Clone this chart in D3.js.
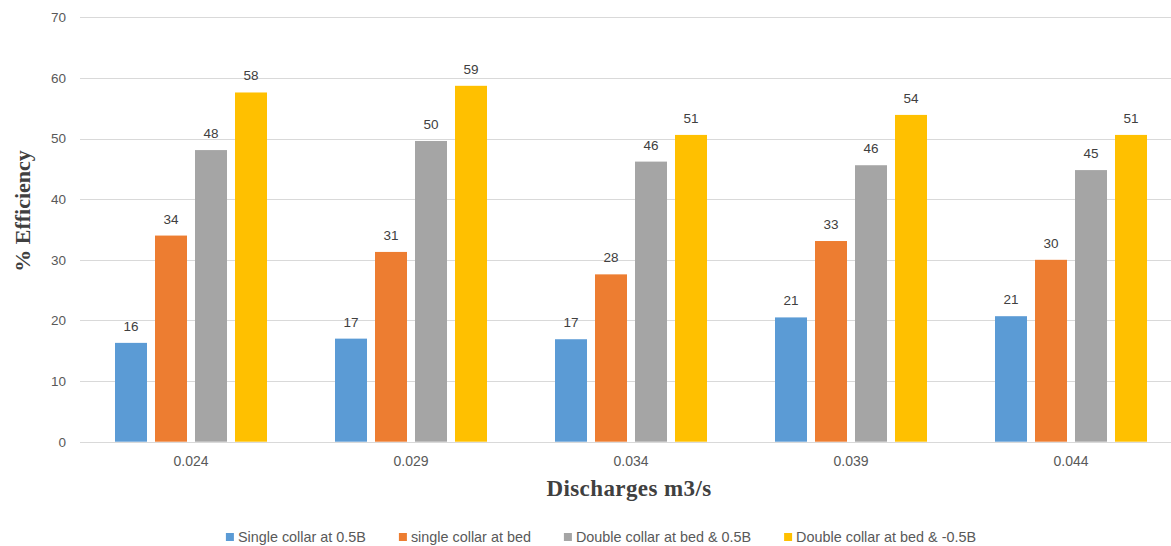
<!DOCTYPE html>
<html>
<head>
<meta charset="utf-8">
<script src="https://cdn.jsdelivr.net/npm/d3@7"></script>
<style>
  html, body { margin: 0; padding: 0; background: #ffffff; }
  svg { display: block; }
</style>
</head>
<body>
<svg id="chart" width="1171" height="546"></svg>
<script>
// Discharge categories (m3/s)
const categories = ["0.024", "0.029", "0.034", "0.039", "0.044"];

// Series names, as shown in the legend
const seriesNames = [
  "Single collar at 0.5B",
  "single collar at bed",
  "Double collar at bed & 0.5B",
  "Double collar at bed & -0.5B"
];

// % efficiency per series, one value per discharge
const singleHalfB   = [16.3, 17.0, 16.9, 20.5, 20.7];
const singleBed     = [34.0, 31.3, 27.6, 33.1, 30.0];
const doubleHalfB   = [48.1, 49.6, 46.2, 45.6, 44.8];
const doubleMinusB  = [57.6, 58.7, 50.6, 53.9, 50.6];

const seriesValues = [singleHalfB, singleBed, doubleHalfB, doubleMinusB];
const seriesColors = ["#5b9bd5", "#ed7d31", "#a5a5a5", "#ffc000"];

const yTicks = [0, 10, 20, 30, 40, 50, 60, 70];

const svg = d3.select("#chart");

const plot = { left: 80, right: 1180, top: 17.3, bottom: 441.7 };

const x0 = d3.scaleBand()
  .domain(categories)
  .range([plot.left + 1, plot.right + 1])
  .paddingInner(68 / 220)
  .paddingOuter(34 / 220);

const x1 = d3.scaleBand()
  .domain(d3.range(seriesNames.length))
  .range([0, x0.bandwidth()])
  .paddingInner(0.2)
  .paddingOuter(0);

const y = d3.scaleLinear()
  .domain([0, 70])
  .range([plot.bottom, plot.top]);

// Horizontal gridlines
svg.append("g")
  .selectAll("line")
  .data(yTicks)
  .join("line")
  .attr("x1", plot.left)
  .attr("x2", plot.right)
  .attr("y1", d => Math.round(y(d)) + 0.5)
  .attr("y2", d => Math.round(y(d)) + 0.5)
  .attr("stroke", "#d9d9d9")
  .attr("stroke-width", 1);

// Y axis tick labels
const yAxis = d3.axisLeft(y).tickValues(yTicks).tickSize(0).tickPadding(0);
const yAxisG = svg.append("g")
  .attr("transform", `translate(${plot.left - 14},0)`)
  .call(yAxis);
yAxisG.select(".domain").remove();
yAxisG.selectAll("text")
  .attr("font-family", "'Liberation Sans', Arial, sans-serif")
  .attr("font-size", 13.5)
  .attr("fill", "#595959");

// X axis category labels
const xAxis = d3.axisBottom(x0).tickSize(0).tickPadding(0);
const xAxisG = svg.append("g")
  .attr("transform", `translate(0,${plot.bottom + 14})`)
  .call(xAxis);
xAxisG.select(".domain").remove();
xAxisG.selectAll("text")
  .attr("font-family", "'Liberation Sans', Arial, sans-serif")
  .attr("font-size", 14)
  .attr("fill", "#595959");

// Bars and value labels
const rows = [];
categories.forEach((c, ci) => {
  seriesValues.forEach((vals, si) => {
    rows.push({ cat: c, s: si, v: vals[ci] });
  });
});

const groups = svg.append("g");
groups.selectAll("rect")
  .data(rows)
  .join("rect")
  .attr("x", d => x0(d.cat) + x1(d.s))
  .attr("y", d => y(d.v))
  .attr("width", x1.bandwidth())
  .attr("height", d => y(0) - y(d.v))
  .attr("fill", d => seriesColors[d.s]);

groups.selectAll("text")
  .data(rows)
  .join("text")
  .attr("x", d => x0(d.cat) + x1(d.s) + x1.bandwidth() / 2)
  .attr("y", d => y(d.v) - 12)
  .attr("text-anchor", "middle")
  .attr("font-family", "'Liberation Sans', Arial, sans-serif")
  .attr("font-size", 13.5)
  .attr("fill", "#404040")
  .text(d => d3.format(".0f")(d.v));

// Axis titles
svg.append("text")
  .attr("transform", "translate(22,211) rotate(-90)")
  .attr("text-anchor", "middle")
  .attr("dominant-baseline", "central")
  .attr("font-family", "'Liberation Serif', 'DejaVu Serif', serif")
  .attr("font-weight", "bold")
  .attr("font-size", 22)
  .attr("fill", "#404040")
  .text("% Efficiency");

svg.append("text")
  .attr("x", (plot.left + plot.right) / 2 - 1)
  .attr("y", 496)
  .attr("text-anchor", "middle")
  .attr("font-family", "'Liberation Serif', 'DejaVu Serif', serif")
  .attr("font-weight", "bold")
  .attr("font-size", 23)
  .attr("letter-spacing", 0.4)
  .attr("fill", "#404040")
  .text("Discharges m3/s");

// Legend, laid out from measured text widths and centred
const legend = svg.append("g");
const items = legend.selectAll("g")
  .data(seriesNames)
  .join("g");
items.append("rect")
  .attr("width", 8)
  .attr("height", 8)
  .attr("y", -4)
  .attr("fill", (d, i) => seriesColors[i]);
items.append("text")
  .attr("x", 12)
  .attr("dominant-baseline", "central")
  .attr("font-family", "'Liberation Sans', Arial, sans-serif")
  .attr("font-size", 14.4)
  .attr("fill", "#595959")
  .text(d => d);

let offset = 0;
const positions = [];
items.each(function () {
  const w = this.querySelector("text").getComputedTextLength();
  positions.push(offset);
  offset += 12 + w + 33;
});
const totalWidth = offset - 33;
const legendStart = 601 - totalWidth / 2;
items.attr("transform", (d, i) => `translate(${legendStart + positions[i]},537)`);
</script>
</body>
</html>
